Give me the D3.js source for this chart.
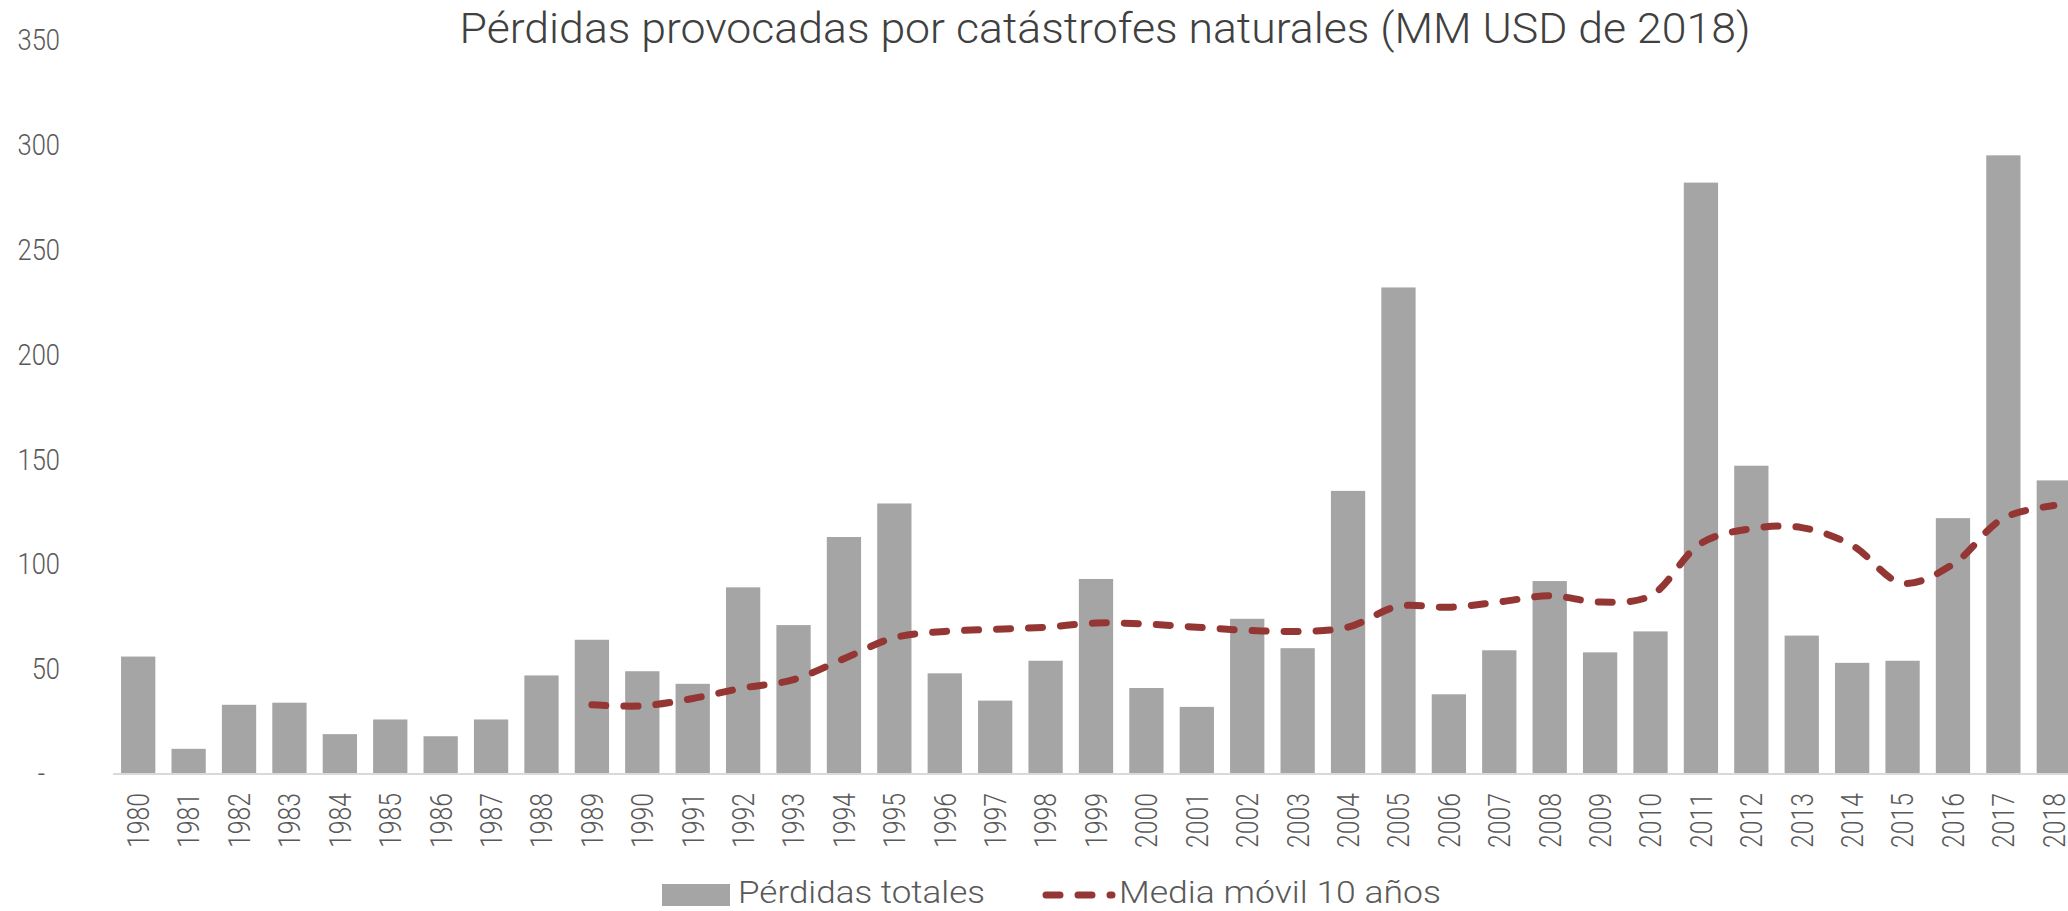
<!DOCTYPE html>
<html>
<head>
<meta charset="utf-8">
<script src="https://cdn.jsdelivr.net/npm/d3@7"></script>
<style>
  body { margin: 0; background: #fff; }
  svg { display: block; font-family: Roboto, 'Open Sans', sans-serif; font-weight: 300; }
</style>
</head>
<body>
<svg></svg>
<script>
const w = 2068;
const h = 911;

const years = d3.range(1980, 2019).map(String);
const losses = [56, 12, 33, 34, 19, 26, 18, 26, 47, 64, 49, 43, 89, 71, 113, 129, 48, 35, 54, 93,
  41, 32, 74, 60, 135, 232, 38, 59, 92, 58, 68, 282, 147, 66, 53, 54, 122, 295, 140];
const movingAvg = [null, null, null, null, null, null, null, null, null, 33, 32.5, 36, 41, 45, 55,
  65, 68, 69, 70, 72, 71.5, 70, 68.5, 68, 70, 80, 79.5, 82, 85, 82, 85, 110, 117, 117.5, 109, 91,
  100, 122, 128];
const yTicks = [0, 50, 100, 150, 200, 250, 300, 350];

const title = 'Pérdidas provocadas por catástrofes naturales (MM USD de 2018)';
const legendBars = 'Pérdidas totales';
const legendLine = 'Media móvil 10 años';

const barColor = '#a5a5a5';
const lineColor = '#943634';

const svg = d3.select('svg').attr('width', w).attr('height', h);

// squeeze text to look like the narrow font of the original
function condense(sel, k) {
  sel.each(function () {
    const len = this.getComputedTextLength();
    d3.select(this).attr('textLength', len * k).attr('lengthAdjust', 'spacingAndGlyphs');
  });
}

const xScale = d3.scaleBand().domain(years).range([113, 2079]).paddingInner(0.32).paddingOuter(0.16);
const yScale = d3.scaleLinear().domain([0, 350]).range([774, 40]);

// bars
svg.append('g')
  .selectAll('rect')
  .data(losses)
  .enter()
  .append('rect')
  .attr('x', (d, i) => xScale(years[i]))
  .attr('y', d => yScale(d))
  .attr('width', xScale.bandwidth())
  .attr('height', d => yScale(0) - yScale(d))
  .attr('fill', barColor);

// base line
svg.append('line')
  .attr('x1', 113).attr('x2', w)
  .attr('y1', yScale(0)).attr('y2', yScale(0))
  .attr('stroke', '#d9d9d9').attr('stroke-width', 2);

// moving average
const line = d3.line()
  .defined(d => d != null)
  .x((d, i) => xScale(years[i]) + xScale.bandwidth() / 2)
  .y(d => yScale(d))
  .curve(d3.curveCatmullRom);

svg.append('path')
  .datum(movingAvg)
  .attr('d', line)
  .attr('fill', 'none')
  .attr('stroke', lineColor)
  .attr('stroke-width', 7)
  .attr('stroke-linecap', 'round')
  .attr('stroke-dasharray', '14,18');

// x axis
const xAxis = d3.axisBottom(xScale).tickSize(0);
const gx = svg.append('g').attr('transform', `translate(0,${yScale(0)})`).call(xAxis);
gx.select('.domain').remove();
gx.selectAll('text')
  .attr('transform', 'rotate(-90)')
  .attr('x', -19)
  .attr('y', 0)
  .attr('dy', '0.35em')
  .style('text-anchor', 'end')
  .style('font-size', '31px')
  .style('font-family', 'Roboto, sans-serif')
  .attr('fill', '#595959')
  .call(condense, 0.8);

// y axis
const yAxis = d3.axisLeft(yScale).tickValues(yTicks).tickSize(0).tickPadding(0)
  .tickFormat(d => (d === 0 ? '-' : d));
const gy = svg.append('g').attr('transform', 'translate(60,0)').call(yAxis);
gy.select('.domain').remove();
gy.selectAll('text')
  .style('font-size', '30px')
  .style('font-family', 'Roboto, sans-serif')
  .attr('fill', '#595959')
  .attr('dx', d => (d === 0 ? -15 : 0))
  .call(condense, 0.85);

// title
svg.append('text')
  .text(title)
  .attr('x', 1105)
  .attr('y', 43)
  .attr('text-anchor', 'middle')
  .style('font-size', '42px')
  .attr('fill', '#404040')
  .attr('textLength', 1291)
  .attr('lengthAdjust', 'spacingAndGlyphs');

// legend
svg.append('rect')
  .attr('x', 662).attr('y', 884)
  .attr('width', 68).attr('height', 22)
  .attr('fill', barColor);
svg.append('text')
  .text(legendBars)
  .attr('x', 738).attr('y', 903)
  .style('font-size', '32px')
  .attr('fill', '#595959')
  .attr('textLength', 247)
  .attr('lengthAdjust', 'spacingAndGlyphs');

svg.append('path')
  .attr('d', 'M1046,895H1112')
  .attr('stroke', lineColor)
  .attr('stroke-width', 7)
  .attr('stroke-linecap', 'round')
  .attr('stroke-dasharray', '14,18');
svg.append('text')
  .text(legendLine)
  .attr('x', 1119).attr('y', 903)
  .style('font-size', '32px')
  .attr('fill', '#595959')
  .attr('textLength', 322)
  .attr('lengthAdjust', 'spacingAndGlyphs');
</script>
</body>
</html>
